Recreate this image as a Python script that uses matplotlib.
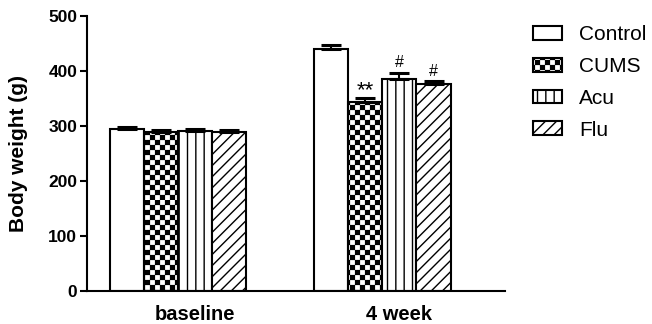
"""Body weight at baseline and after 4 weeks, four groups, hatched bars."""
import matplotlib
import numpy as np

matplotlib.use('Agg')
import matplotlib.pyplot as plt
from matplotlib import hatch as mhatch
from matplotlib.path import Path as MPath

# data
timepoints = ['baseline', '4 week']
groups = ['Control', 'CUMS', 'Acu', 'Flu']
means_baseline = [294, 290, 291, 290]
sem_baseline = [4, 3, 4, 3]
means_4week = [440, 343, 385, 377]
sem_4week = [7, 7, 12, 4]
marks_4week = ['', '**', '#', '#']


class CheckerHatch(mhatch.HatchPatternBase):
    """Filled checkerboard, triggered by '*' in the hatch string."""

    def __init__(self, hatch, density):
        self.n = 20 if '*' in hatch else 0
        self.num_vertices = 5 * (self.n * self.n // 2)

    def set_vertices_and_codes(self, vertices, codes):
        n = self.n
        d = 0.006  # shrink a bit, the hatch stroke fattens the squares
        k = 0
        for i in range(n):
            for j in range(n):
                if (i + j) % 2:
                    continue
                x0, x1 = i / n + d, (i + 1) / n - d
                y0, y1 = j / n + d, (j + 1) / n - d
                vertices[k:k + 5] = [(x0, y0), (x1, y0), (x1, y1), (x0, y1), (x0, y0)]
                codes[k:k + 5] = [MPath.MOVETO, MPath.LINETO, MPath.LINETO,
                                  MPath.LINETO, MPath.CLOSEPOLY]
                k += 5


mhatch._hatch_types = [h for h in mhatch._hatch_types if h is not mhatch.Stars]
mhatch._hatch_types.append(CheckerHatch)

plt.rcParams['font.family'] = ['Liberation Sans', 'DejaVu Sans']
plt.rcParams['hatch.linewidth'] = 1.0
plt.rcParams['hatch.color'] = 'black'

hatches = ['', '*', '||', '///']
LW = 1.5
N = len(groups)
GAP = 2  # empty bar slots between the two time points

fig = plt.figure(figsize=(6.52, 3.24), dpi=100)
ax = fig.add_axes([87 / 652, 1 - 291 / 324, (505 - 87) / 652, (291 - 16) / 324])

means = np.array([means_baseline, means_4week])
sems = np.array([sem_baseline, sem_4week])

handles = []
for g, name in enumerate(groups):
    xs = np.arange(len(timepoints)) * (N + GAP) + g
    bars = ax.bar(xs, means[:, g], width=1.0, color='white', edgecolor='black',
                  linewidth=LW, hatch=hatches[g], label=name, zorder=2)
    handles.append(bars)
    ax.errorbar(xs, means[:, g], yerr=[np.zeros(len(xs)), sems[:, g]], fmt='none',
                ecolor='black', elinewidth=LW, capsize=7, capthick=2.2, zorder=3)

# significance marks over the 4 week bars
for g, mark in enumerate(marks_4week):
    if not mark:
        continue
    x = (N + GAP) + g
    top = means_4week[g] + sem_4week[g]
    if mark == '**':
        ax.annotate(mark, (x, top), xytext=(0, 1.5), textcoords='offset points',
                    ha='center', va='baseline', fontsize=16)
    else:
        ax.annotate(mark, (x, top), xytext=(0, 4), textcoords='offset points',
                    ha='center', va='baseline', fontsize=11.5)

ax.set_xlim(-1.18, 11.1)
ax.set_ylim(0, 500)
ax.set_yticks(np.arange(0, 501, 100))
ax.set_xticks([2, (N + GAP) + 2])
ax.set_xticklabels(timepoints, fontsize=14.5, fontweight='bold')
ax.tick_params(axis='x', length=0, pad=10)
ax.tick_params(axis='y', length=5, width=LW, pad=2, labelsize=12.5)
for lab in ax.get_yticklabels():
    lab.set_fontweight('bold')

ax.set_ylabel('Body weight (g)', fontsize=15, fontweight='bold')
ax.yaxis.set_label_coords(-0.141, 0.5)

for side in ('top', 'right'):
    ax.spines[side].set_visible(False)
for side in ('left', 'bottom'):
    ax.spines[side].set_linewidth(LW)

fig.legend(handles=handles, labels=groups, loc='upper left',
           bbox_to_anchor=(533 / 652, 1 - 25 / 324), frameon=False, fontsize=15,
           handlelength=1.4, handleheight=0.65, handletextpad=0.8,
           labelspacing=0.62, borderpad=0, borderaxespad=0)

fig.savefig('out.png', dpi=100)
plt.close(fig)
print("Saved: out.png")
